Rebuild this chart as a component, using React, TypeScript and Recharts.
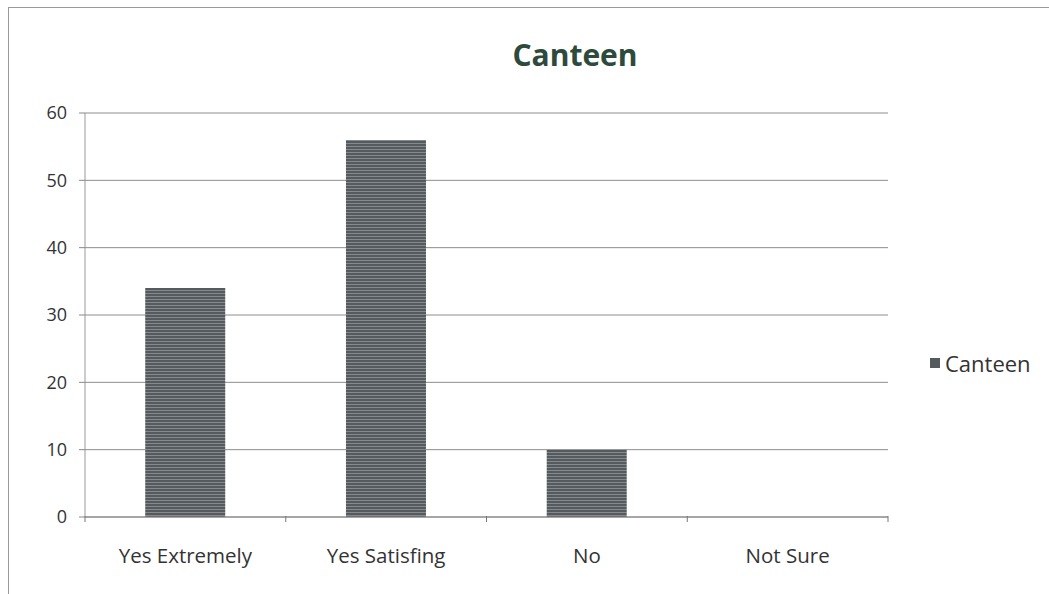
import { Bar, BarChart, CartesianGrid, XAxis, YAxis } from "recharts";

const CATEGORIES = ["Yes Extremely", "Yes Satisfing", "No", "Not Sure"];
const CANTEEN_VALUES = [34, 56, 10, 0];
const Y_TICKS = [0, 10, 20, 30, 40, 50, 60];
const SERIES_NAME = "Canteen";

const FONT = "'Open Sans', Lato, 'Liberation Sans', sans-serif";

const chartData = CATEGORIES.map((name, i) => ({ name, [SERIES_NAME]: CANTEEN_VALUES[i] }));

type TickProps = {
  x?: number;
  y?: number;
  index?: number;
  payload?: { value: string; offset?: number };
};

// label sits under the band centre, tick marks sit on the band edges
function CategoryTick({ x = 0, y = 0, index = 0, payload }: TickProps) {
  const half = payload?.offset ?? 0;
  const last = index === CATEGORIES.length - 1;
  return (
    <g>
      <line x1={x - half} x2={x - half} y1={y - 9} y2={y - 3} stroke="#777" strokeWidth={1} />
      {last && <line x1={x + half} x2={x + half} y1={y - 9} y2={y - 3} stroke="#777" strokeWidth={1} />}
      <text x={x} y={y + 38} textAnchor="middle" fontSize={20.5} fill="#333" fontFamily={FONT}>
        {payload?.value}
      </text>
    </g>
  );
}

export default function App() {
  return (
    <div style={{ position: "absolute", left: 0, top: 0, width: 1049, height: 594, background: "#fff", overflow: "hidden" }}>
      <div
        style={{
          position: "absolute",
          left: 8,
          top: 7,
          right: -4,
          bottom: -4,
          borderLeft: "1.5px solid #9a9a9a",
          borderTop: "1.5px solid #9a9a9a",
        }}
      />
      <div
        style={{
          position: "absolute",
          left: 0,
          width: 1150,
          top: 34,
          textAlign: "center",
          fontFamily: FONT,
          fontWeight: 700,
          fontSize: 30,
          color: "#2e4a3c",
        }}
      >
        Canteen
      </div>
      <BarChart
        width={1049}
        height={594}
        data={chartData}
        margin={{ top: 113, right: 161, bottom: 0, left: 0 }}
        barCategoryGap="30%"
        style={{ position: "absolute", left: 0, top: 0 }}
      >
        <defs>
          <pattern id="stripes" width="4" height="3" patternUnits="userSpaceOnUse">
            <rect width="4" height="3" fill="#555a5e" />
            <rect y="2" width="4" height="1" fill="#868a8d" />
          </pattern>
        </defs>
        <CartesianGrid vertical={false} stroke="#8c8c8c" />
        <XAxis
          dataKey="name"
          height={77}
          axisLine={{ stroke: "#888" }}
          tickLine={false}
          tick={<CategoryTick />}
          interval={0}
        />
        <YAxis
          width={85}
          domain={[0, 60]}
          ticks={Y_TICKS}
          axisLine={{ stroke: "#999" }}
          tickLine={{ stroke: "#888" }}
          tickSize={6}
          tickMargin={12}
          tick={{ fontSize: 18, fill: "#333", fontFamily: FONT }}
        />
        <Bar dataKey={SERIES_NAME} fill="url(#stripes)" isAnimationActive={false} />
      </BarChart>
      <div
        style={{
          position: "absolute",
          left: 930,
          top: 348,
          display: "flex",
          alignItems: "center",
          gap: 5,
          fontFamily: FONT,
          fontSize: 22,
          color: "#333",
        }}
      >
        <span style={{ width: 10, height: 10, background: "#555a5e", display: "inline-block" }} />
        <span>{SERIES_NAME}</span>
      </div>
    </div>
  );
}
